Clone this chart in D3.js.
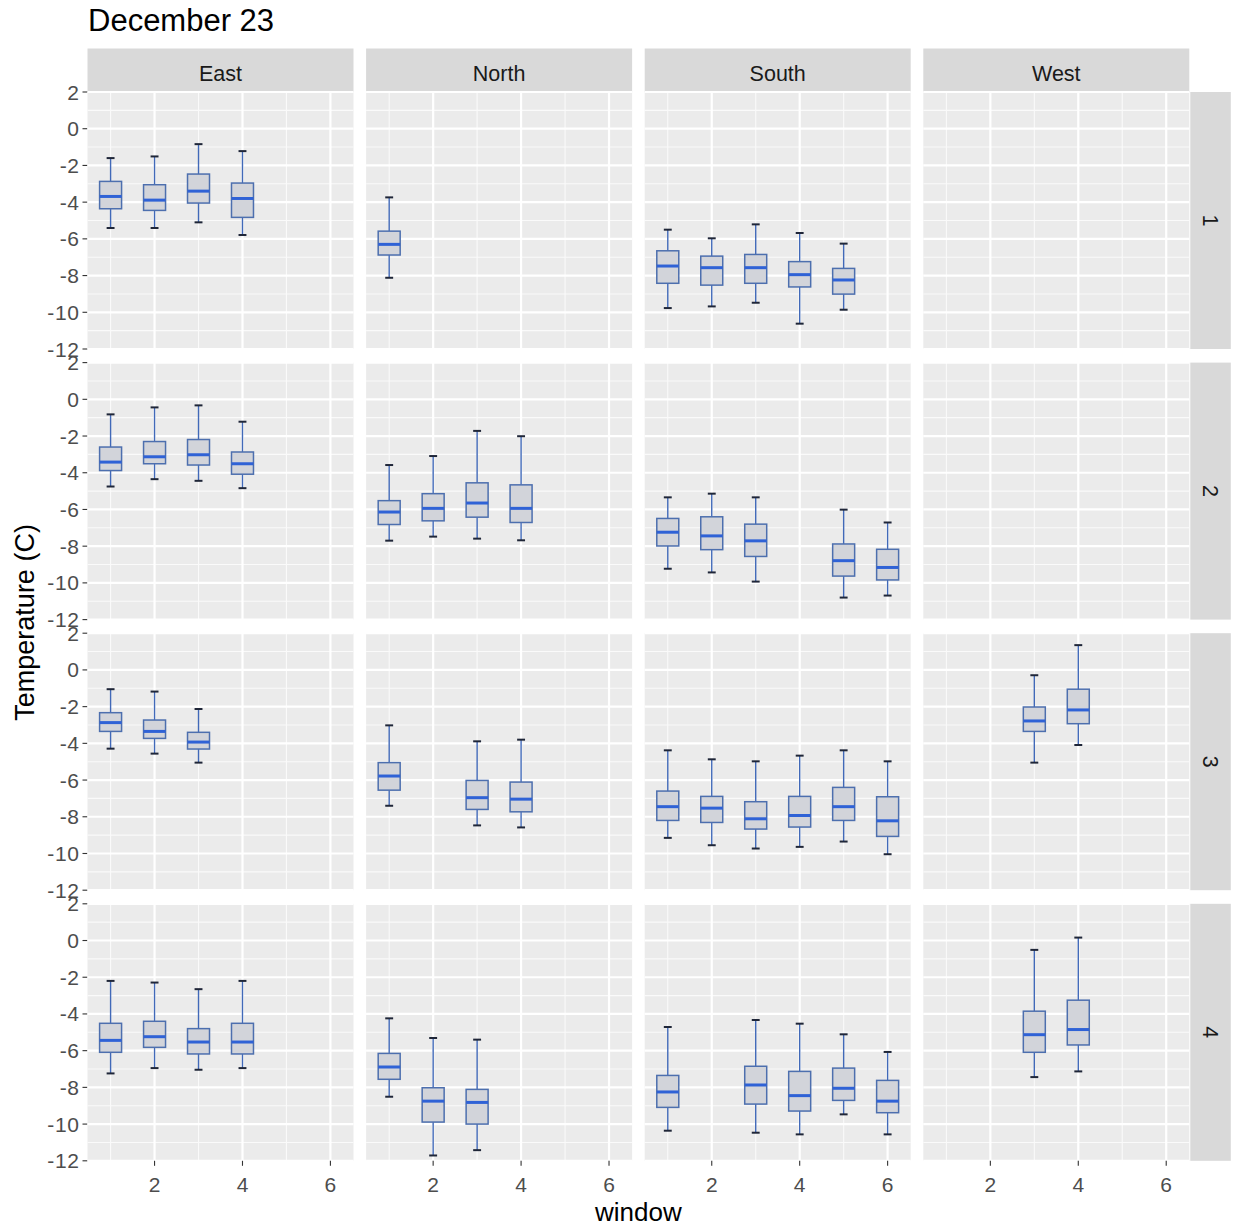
<!DOCTYPE html>
<html>
<head>
<meta charset="utf-8">
<script src="https://cdn.jsdelivr.net/npm/d3@7"></script>
<style>
  html, body { margin: 0; padding: 0; background: #ffffff; }
  svg { display: block; font-family: "Liberation Sans", Arial, sans-serif; }
</style>
</head>
<body>
<svg id="chart" width="1235" height="1230"></svg>
<script>
// ---- data ----
const chartTitle = "December 23";
const columns = ["East", "North", "South", "West"];
const rows = ["1", "2", "3", "4"];
const xTicks = [2, 4, 6];
const yTicks = [2, 0, -2, -4, -6, -8, -10, -12];
const xLabel = "window";
const yLabel = "Temperature (C)";

// each entry: [window, lowerWhisker, q1, median, q3, upperWhisker]
const east1 = [[1,-5.41,-4.36,-3.69,-2.87,-1.60],[2,-5.41,-4.45,-3.89,-3.05,-1.51],[3,-5.10,-4.05,-3.40,-2.47,-0.84],[4,-5.79,-4.83,-3.80,-2.96,-1.22]];
const north1 = [[1,-8.12,-6.88,-6.30,-5.58,-3.74]];
const south1 = [[1,-9.77,-8.42,-7.48,-6.65,-5.50],[2,-9.68,-8.52,-7.57,-6.94,-5.97],[3,-9.48,-8.42,-7.57,-6.85,-5.21],[4,-10.62,-8.62,-7.95,-7.24,-5.68],[5,-9.86,-9.01,-8.24,-7.61,-6.26]];
const west1 = [];

const east2 = [[1,-4.75,-3.88,-3.42,-2.60,-0.82],[2,-4.35,-3.51,-3.13,-2.30,-0.44],[3,-4.44,-3.58,-3.02,-2.19,-0.33],[4,-4.84,-4.08,-3.51,-2.87,-1.22]];
const north2 = [[1,-7.70,-6.82,-6.14,-5.52,-3.58],[2,-7.48,-6.62,-5.94,-5.14,-3.09],[3,-7.59,-6.42,-5.65,-4.55,-1.72],[4,-7.68,-6.71,-5.94,-4.66,-2.01]];
const south2 = [[1,-9.23,-7.99,-7.24,-6.49,-5.34],[2,-9.43,-8.19,-7.44,-6.40,-5.14],[3,-9.93,-8.56,-7.71,-6.80,-5.34],[5,-10.80,-9.63,-8.79,-7.88,-6.01],[6,-10.69,-9.84,-9.16,-8.17,-6.71]];
const west2 = [];

const east3 = [[1,-4.29,-3.35,-2.87,-2.33,-1.05],[2,-4.56,-3.73,-3.35,-2.73,-1.18],[3,-5.05,-4.31,-3.93,-3.40,-2.13]];
const north3 = [[1,-7.40,-6.55,-5.78,-5.05,-3.02],[3,-8.47,-7.60,-6.96,-6.02,-3.89],[4,-8.58,-7.73,-7.04,-6.11,-3.80]];
const south3 = [[1,-9.15,-8.20,-7.45,-6.60,-4.38],[2,-9.55,-8.31,-7.53,-6.89,-4.87],[3,-9.73,-8.67,-8.11,-7.18,-4.98],[4,-9.64,-8.56,-7.93,-6.89,-4.67],[5,-9.35,-8.20,-7.45,-6.40,-4.38],[6,-10.04,-9.07,-8.22,-6.91,-4.98]];
const west3 = [[3,-5.05,-3.35,-2.78,-2.02,-0.29],[4,-4.09,-2.93,-2.18,-1.05,1.35]];

const east4 = [[1,-7.24,-6.09,-5.44,-4.51,-2.20],[2,-6.95,-5.82,-5.24,-4.40,-2.29],[3,-7.04,-6.18,-5.53,-4.80,-2.65],[4,-6.95,-6.18,-5.53,-4.51,-2.20]];
const north4 = [[1,-8.51,-7.56,-6.89,-6.15,-4.24],[2,-11.71,-9.89,-8.75,-8.02,-5.31],[3,-11.42,-10.00,-8.82,-8.11,-5.40]];
const south4 = [[1,-10.36,-9.09,-8.25,-7.35,-4.71],[3,-10.47,-8.91,-7.87,-6.85,-4.33],[4,-10.56,-9.29,-8.45,-7.13,-4.53],[5,-9.47,-8.71,-8.05,-6.95,-5.11],[6,-10.56,-9.38,-8.75,-7.62,-6.07]];
const west4 = [[3,-7.44,-6.09,-5.13,-3.85,-0.51],[4,-7.13,-5.69,-4.85,-3.25,0.16]];

const panelData = [
  [east1, north1, south1, west1],
  [east2, north2, south2, west2],
  [east3, north3, south3, west3],
  [east4, north4, south4, west4]
];

// ---- layout ----
const svg = d3.select("#chart");
const left0 = 87.5, panelW = 266, gapX = 12.6;
const top0 = 92, panelH = 257, gapY = 13.6;
const stripTopY = 48.5, stripTopH = 43.5;
const stripRightW = 40.5, stripRightGap = 1;

const x = d3.scaleLinear().domain([0.475, 6.525]).range([0, panelW]);
const y = d3.scaleLinear().domain([-12, 2]).range([panelH, 0]);

const boxW = 0.5, capW = 0.18;
const textGrey = "#4d4d4d";

// title
svg.append("text").attr("x", 88).attr("y", 31)
  .attr("font-size", 31).attr("fill", "#000").text(chartTitle);

columns.forEach((c, ci) => {
  const px = left0 + ci * (panelW + gapX);
  svg.append("rect").attr("x", px).attr("y", stripTopY).attr("width", panelW).attr("height", stripTopH).attr("fill", "#d9d9d9");
  svg.append("text").attr("x", px + panelW / 2).attr("y", 80.5)
    .attr("text-anchor", "middle").attr("font-size", 21.5).attr("fill", "#1a1a1a").text(c);
});

rows.forEach((r, ri) => {
  const py = top0 + ri * (panelH + gapY);
  const sx = left0 + 4 * panelW + 3 * gapX + stripRightGap;
  svg.append("rect").attr("x", sx).attr("y", py).attr("width", stripRightW).attr("height", panelH).attr("fill", "#d9d9d9");
  svg.append("text").attr("transform", `translate(${sx + stripRightW / 2 - 7.5},${py + panelH / 2}) rotate(90)`)
    .attr("text-anchor", "middle").attr("font-size", 21.5).attr("fill", "#1a1a1a").text(r);

  // y axis for this row
  const ya = svg.append("g").attr("transform", `translate(${left0},${py})`);
  yTicks.forEach(t => {
    ya.append("line").attr("x1", -5).attr("x2", 0).attr("y1", y(t)).attr("y2", y(t)).attr("stroke", "#333").attr("stroke-width", 1.1);
    ya.append("text").attr("x", -8).attr("y", y(t) + 7.5).attr("text-anchor", "end")
      .attr("font-size", 21).attr("letter-spacing", 0.6).attr("fill", textGrey).text(t);
  });

  columns.forEach((c, ci) => {
    const px = left0 + ci * (panelW + gapX);
    const g = svg.append("g").attr("transform", `translate(${px},${py})`);
    g.append("rect").attr("width", panelW).attr("height", panelH).attr("fill", "#ebebeb");
    // minor grid
    const yMinor = d3.range(-11, 2, 2);
    g.selectAll(".ym").data(yMinor).enter().append("line")
      .attr("x1", 0).attr("x2", panelW).attr("y1", d => y(d)).attr("y2", d => y(d))
      .attr("stroke", "#fafafa").attr("stroke-width", 1.1);
    const xMinor = [1, 3, 5];
    g.selectAll(".xm").data(xMinor).enter().append("line")
      .attr("y1", 0).attr("y2", panelH).attr("x1", d => x(d)).attr("x2", d => x(d))
      .attr("stroke", "#fafafa").attr("stroke-width", 1.1);
    // major grid
    g.selectAll(".yM").data(yTicks).enter().append("line")
      .attr("x1", 0).attr("x2", panelW).attr("y1", d => y(d)).attr("y2", d => y(d))
      .attr("stroke", "#ffffff").attr("stroke-width", 2.2);
    g.selectAll(".xM").data(xTicks).enter().append("line")
      .attr("y1", 0).attr("y2", panelH).attr("x1", d => x(d)).attr("x2", d => x(d))
      .attr("stroke", "#ffffff").attr("stroke-width", 2.2);

    const data = panelData[ri][ci];
    const b = g.selectAll(".box").data(data).enter().append("g");
    // whiskers
    b.append("line").attr("x1", d => x(d[0])).attr("x2", d => x(d[0]))
      .attr("y1", d => y(d[5])).attr("y2", d => y(d[4]))
      .attr("stroke", "#4169b8").attr("stroke-width", 1.4);
    b.append("line").attr("x1", d => x(d[0])).attr("x2", d => x(d[0]))
      .attr("y1", d => y(d[2])).attr("y2", d => y(d[1]))
      .attr("stroke", "#4169b8").attr("stroke-width", 1.4);
    // caps
    [5, 1].forEach(k => {
      b.append("line").attr("x1", d => x(d[0] - capW / 2)).attr("x2", d => x(d[0] + capW / 2))
        .attr("y1", d => y(d[k])).attr("y2", d => y(d[k]))
        .attr("stroke", "#1f2638").attr("stroke-width", 2);
    });
    // box
    b.append("rect").attr("x", d => x(d[0] - boxW / 2)).attr("width", x(boxW) - x(0))
      .attr("y", d => y(d[4])).attr("height", d => y(d[2]) - y(d[4]))
      .attr("fill", "#d2d4da").attr("stroke", "#4d6fae").attr("stroke-width", 1.5);
    // median
    b.append("line").attr("x1", d => x(d[0] - boxW / 2)).attr("x2", d => x(d[0] + boxW / 2))
      .attr("y1", d => y(d[3])).attr("y2", d => y(d[3]))
      .attr("stroke", "#2f62d6").attr("stroke-width", 3);

    // x axis on bottom row
    if (ri === rows.length - 1) {
      const xa = svg.append("g").attr("transform", `translate(${px},${py + panelH})`);
      xTicks.forEach(t => {
        xa.append("line").attr("x1", x(t)).attr("x2", x(t)).attr("y1", 0).attr("y2", 5).attr("stroke", "#333").attr("stroke-width", 1.1);
        xa.append("text").attr("x", x(t)).attr("y", 31).attr("text-anchor", "middle")
          .attr("font-size", 21).attr("fill", textGrey).text(t);
      });
    }
  });
});

// axis titles
const plotMidX = left0 + (4 * panelW + 3 * gapX) / 2;
const plotMidY = top0 + (4 * panelH + 3 * gapY) / 2;
svg.append("text").attr("x", plotMidX).attr("y", 1221).attr("text-anchor", "middle")
  .attr("font-size", 26).attr("fill", "#000").text(xLabel);
svg.append("text").attr("transform", `translate(34,${plotMidY - 4}) rotate(-90)`).attr("text-anchor", "middle")
  .attr("font-size", 27).attr("fill", "#000").text(yLabel);
</script>
</body>
</html>
